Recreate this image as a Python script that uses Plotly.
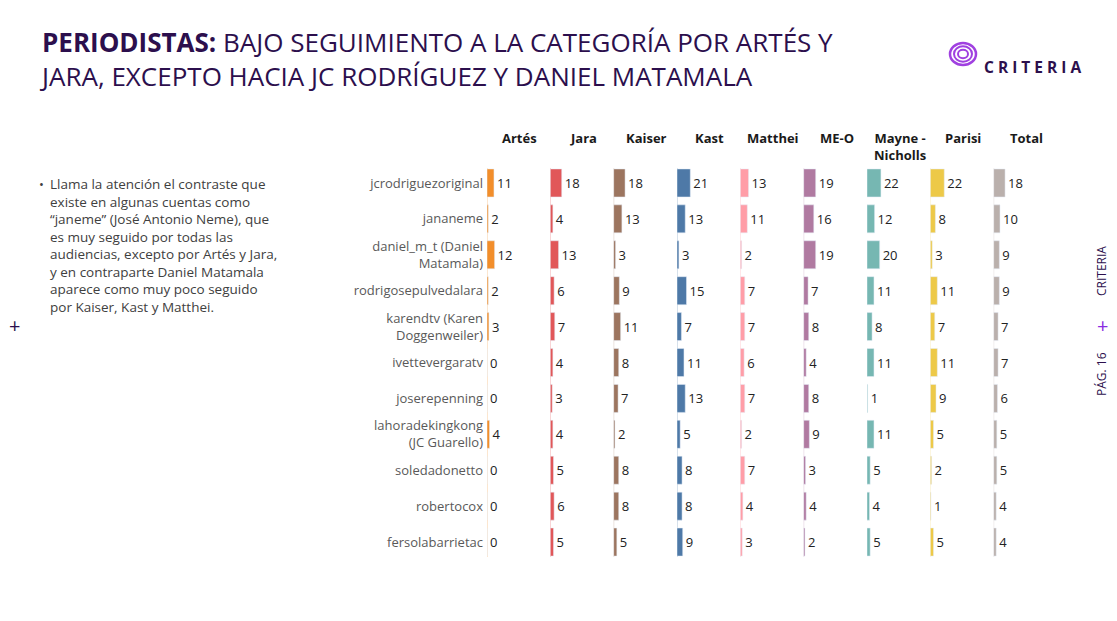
import plotly.graph_objects as go
from plotly.subplots import make_subplots

# candidates (columns) and colours
candidates = ["Artés", "Jara", "Kaiser", "Kast", "Matthei", "ME-O", "Mayne -<br>Nicholls", "Parisi", "Total"]
colors = ["#F28E2B", "#E15759", "#9C755F", "#4E79A7", "#FF9DA7", "#B07AA1", "#76B7B2", "#EDC948", "#BAB0AC"]

# accounts (rows)
accounts = ["jcrodriguezoriginal", "jananeme", "daniel_m_t (Daniel<br>Matamala)", "rodrigosepulvedalara",
            "karendtv (Karen<br>Doggenweiler)", "ivettevergaratv", "joserepenning",
            "lahoradekingkong<br>(JC Guarello)", "soledadonetto", "robertocox", "fersolabarrietac"]

# values per candidate, same order as accounts
artes = [11, 2, 12, 2, 3, 0, 0, 4, 0, 0, 0]
jara = [18, 4, 13, 6, 7, 4, 3, 4, 5, 6, 5]
kaiser = [18, 13, 3, 9, 11, 8, 7, 2, 8, 8, 5]
kast = [21, 13, 3, 15, 7, 11, 13, 5, 8, 8, 9]
matthei = [13, 11, 2, 7, 7, 6, 7, 2, 7, 4, 3]
meo = [19, 16, 19, 7, 8, 4, 8, 9, 3, 4, 2]
mayne = [22, 12, 20, 11, 8, 11, 1, 11, 5, 4, 5]
parisi = [22, 8, 3, 11, 7, 11, 9, 5, 2, 1, 5]
total = [18, 10, 9, 9, 7, 7, 6, 5, 5, 4, 4]
series = [artes, jara, kaiser, kast, matthei, meo, mayne, parisi, total]

note_lines = ["Llama la atención el contraste que", "existe en algunas cuentas como",
              "“janeme” (José Antonio Neme), que", "es muy seguido por todas las",
              "audiencias, excepto por Artés y Jara,", "y en contraparte Daniel Matamala",
              "aparece como muy poco seguido", "por Kaiser, Kast y Matthei."]

OFF = 8                      # page body margin around the plot div
W, H = 1117 - 2 * OFF, 621 - 2 * OFF
PL, PR, PT, PB = 487, 1057, 165, 560   # plot area in page pixels


def px(x):
    return (x - PL) / (PR - PL)


def py(y):
    return (PB - y) / (PB - PT)


def faded(hex_color, a):
    r, g, b = int(hex_color[1:3], 16), int(hex_color[3:5], 16), int(hex_color[5:7], 16)
    return f"rgba({r},{g},{b},{a})"


fig = make_subplots(rows=1, cols=len(candidates), shared_yaxes=True, horizontal_spacing=0)

for i, (vals, col) in enumerate(zip(series, colors), start=1):
    fig.add_trace(go.Bar(
        y=accounts, x=vals, orientation="h", marker_color=col, width=0.78,
        text=vals, textposition="outside", cliponaxis=False,
        textfont=dict(size=13, color="#222222", family="Open Sans"),
        showlegend=False, hoverinfo="x+y"), row=1, col=i)
    fig.update_xaxes(range=[0, 100], visible=False, row=1, col=i)
    # faint baseline of each column
    fig.add_shape(type="line", xref=f"x{i}" if i > 1 else "x", x0=0, x1=0,
                  yref="paper", y0=py(557), y1=py(168),
                  line=dict(color=faded(col, 0.45), width=1), layer="below")
    # column header
    fig.add_annotation(xref=(f"x{i} domain" if i > 1 else "x domain"), x=0.52, xanchor="center",
                       yref="paper", y=py(127), yanchor="top", showarrow=False,
                       text=f"<b>{candidates[i-1]}</b>",
                       font=dict(size=13, color="#1a1a1a", family="Open Sans"))

fig.update_yaxes(autorange="reversed", showgrid=False, zeroline=False, ticks="",
                 ticklabelstandoff=3,
                 tickfont=dict(size=13, color="#595959", family="Open Sans"))
fig.update_yaxes(showticklabels=False, col=2)

dark = "#2c0f4d"

# title
fig.add_annotation(xref="paper", yref="paper", x=px(37), y=py(59), xanchor="left", yanchor="middle",
                   showarrow=False, align="left",
                   text="<b>PERIODISTAS:</b> BAJO SEGUIMIENTO A LA CATEGORÍA POR ARTÉS Y<br>"
                        "JARA, EXCEPTO HACIA JC RODRÍGUEZ Y DANIEL MATAMALA",
                   font=dict(size=26, color=dark, family="Open Sans"))

# commentary
fig.add_annotation(xref="paper", yref="paper", x=px(48), y=py(173), xanchor="left", yanchor="top",
                   showarrow=False, align="left", text="<br>".join(note_lines),
                   font=dict(size=13.5, color="#404040", family="Open Sans"))
fig.add_annotation(xref="paper", yref="paper", x=px(37), y=py(184), yanchor="middle", showarrow=False,
                   text="•", font=dict(size=13, color="#404040", family="Open Sans"))

# logo
for r, w in [(13, 2.5), (9, 2), (5, 2)]:
    fig.add_shape(type="circle", xref="paper", yref="paper",
                  x0=px(963 - r), x1=px(963 + r), y0=py(54 + r * 0.85), y1=py(54 - r * 0.85),
                  line=dict(color="#a040e0", width=w))
fig.add_annotation(xref="paper", yref="paper", x=px(982), y=py(54), xanchor="left", showarrow=False,
                   text="<b>C R I T E R I A</b>", font=dict(size=15.5, color=dark, family="Open Sans"))

# side decorations
fig.add_annotation(xref="paper", yref="paper", x=px(1101), y=py(271), xanchor="center", yanchor="middle",
                   showarrow=False, textangle=-90,
                   text="CRITERIA", font=dict(size=12, color=dark, family="Open Sans"))
fig.add_annotation(xref="paper", yref="paper", x=px(1102), y=py(325), xanchor="center", yanchor="middle",
                   showarrow=False, text="+", font=dict(size=20, color="#8a2be2", family="Open Sans"))
fig.add_annotation(xref="paper", yref="paper", x=px(1101), y=py(374), xanchor="center", yanchor="middle",
                   showarrow=False, textangle=-90,
                   text="PÁG. 16", font=dict(size=12, color=dark, family="Open Sans"))
fig.add_annotation(xref="paper", yref="paper", x=px(7), y=py(325), showarrow=False,
                   text="+", font=dict(size=20, color=dark, family="Open Sans"))

fig.update_layout(width=W, height=H, plot_bgcolor="white", paper_bgcolor="white",
                  margin=dict(l=PL - OFF, r=W - (PR - OFF), t=PT - OFF, b=H - (PB - OFF)),
                  bargap=0.22)

fig.write_html("out.html")
